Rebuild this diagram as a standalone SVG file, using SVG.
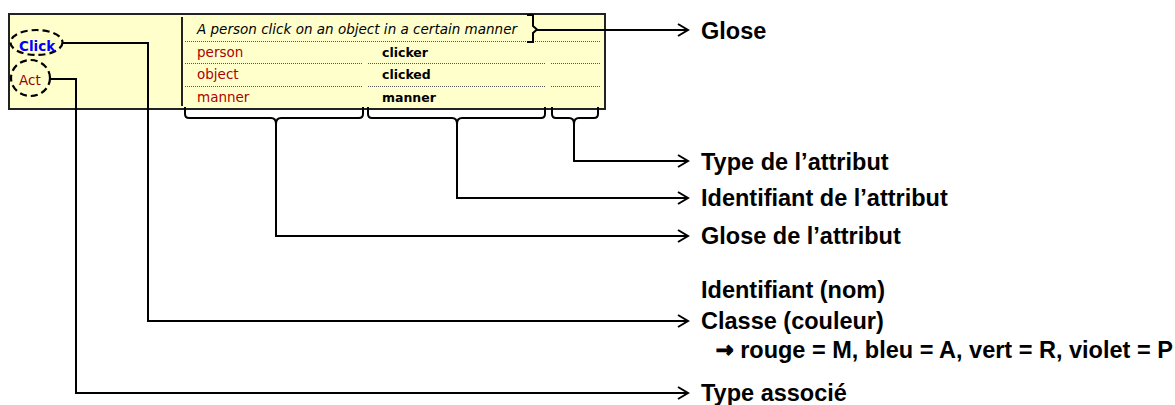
<svg xmlns="http://www.w3.org/2000/svg" width="1175" height="405" viewBox="0 0 1175 405">
<style>
.lbl{font-family:"Liberation Sans",Arial,sans-serif;font-weight:bold;font-size:23.5px;fill:#000}
.sm{font-family:"DejaVu Sans",Verdana,sans-serif;font-size:13.5px}
.red{fill:#b00000}
.bold{font-weight:bold;font-size:12.5px;fill:#000}
.dot{stroke:#555;stroke-width:1;stroke-dasharray:1 1;fill:none}
.con{stroke:#000;stroke-width:2;fill:none}
.ell{stroke:#000;stroke-width:2.2;stroke-dasharray:7 4;fill:none}
</style>
<defs>
<marker id="arr" markerUnits="userSpaceOnUse" markerWidth="14" markerHeight="16" refX="11" refY="7" orient="auto">
<path d="M1,1 L11,7 L1,13" fill="none" stroke="#000" stroke-width="2"/>
</marker>
</defs>
<rect width="1175" height="405" fill="#fff"/>
<g id="frame">
<rect x="9" y="14" width="596" height="95" fill="#ffffcc" stroke="#222" stroke-width="2"/>
<line x1="182" y1="17" x2="182" y2="106" stroke="#222" stroke-width="2"/>
<path class="dot" d="M185,41.5H600M185,63.5H363M368,63.5H545M551,63.5H600M185,86.5H363M368,86.5H545M551,86.5H600"/>
</g>
<g id="click">
<ellipse class="ell" cx="36.5" cy="42.5" rx="26" ry="12.5"/>
<text class="sm" x="19" y="51" fill="#0000ff" font-weight="bold" font-size="12.5">Click</text>
</g>
<g id="act">
<ellipse class="ell" cx="30.5" cy="78" rx="19.5" ry="18"/>
<text class="sm" x="19" y="85" fill="#990000">Act</text>
</g>
<g id="gloss">
<text class="sm" x="197" y="34" font-style="italic" textLength="320" lengthAdjust="spacing">A person click on an object in a certain manner</text>
<path d="M527,15H533V26L537,29.5L533,33V42H527" fill="none" stroke="#000" stroke-width="2"/>
</g>
<g id="rows">
<text class="sm red" x="197" y="57">person</text>
<text class="sm red" x="197" y="79">object</text>
<text class="sm red" x="197" y="102">manner</text>
<text class="sm bold" x="382" y="57">clicker</text>
<text class="sm bold" x="382" y="79">clicked</text>
<text class="sm bold" x="382" y="102">manner</text>
</g>
<g id="brackets" fill="none" stroke="#000" stroke-width="2">
<path d="M185,107V114Q185,118 189,118H271Q276,118 276,124Q276,118 281,118H359Q363,118 363,114V107"/>
<path d="M368,107V114Q368,118 372,118H452Q457,118 457,124Q457,118 462,118H541Q545,118 545,114V107"/>
<path d="M552,107V114Q552,118 556,118H569Q574,118 574,124Q574,118 579,118H594Q598,118 598,114V107"/>
</g>
<g id="connectors">
<path class="con" d="M537,30H688" marker-end="url(#arr)"/>
<path class="con" d="M574,122V161H688" marker-end="url(#arr)"/>
<path class="con" d="M457,122V198H688" marker-end="url(#arr)"/>
<path class="con" d="M276,122V236H688" marker-end="url(#arr)"/>
<path class="con" d="M63,43H148V321H688" marker-end="url(#arr)"/>
<path class="con" d="M50,79H76V393H688" marker-end="url(#arr)"/>
</g>
<g id="labels">
<text class="lbl" x="701" y="39">Glose</text>
<text class="lbl" x="701" y="170">Type de l’attribut</text>
<text class="lbl" x="701" y="206">Identifiant de l’attribut</text>
<text class="lbl" x="701" y="244">Glose de l’attribut</text>
<text class="lbl" x="701" y="298">Identifiant (nom)</text>
<text class="lbl" x="701" y="329">Classe (couleur)</text>
<text class="lbl" x="716" y="358"><tspan font-family="DejaVu Sans" font-size="21" stroke="#000" stroke-width="1.3" dy="-1">→</tspan><tspan dy="1"> rouge = M, bleu = A, vert = R, violet = P</tspan></text>
<text class="lbl" x="701" y="401">Type associé</text>
</g>
</svg>
